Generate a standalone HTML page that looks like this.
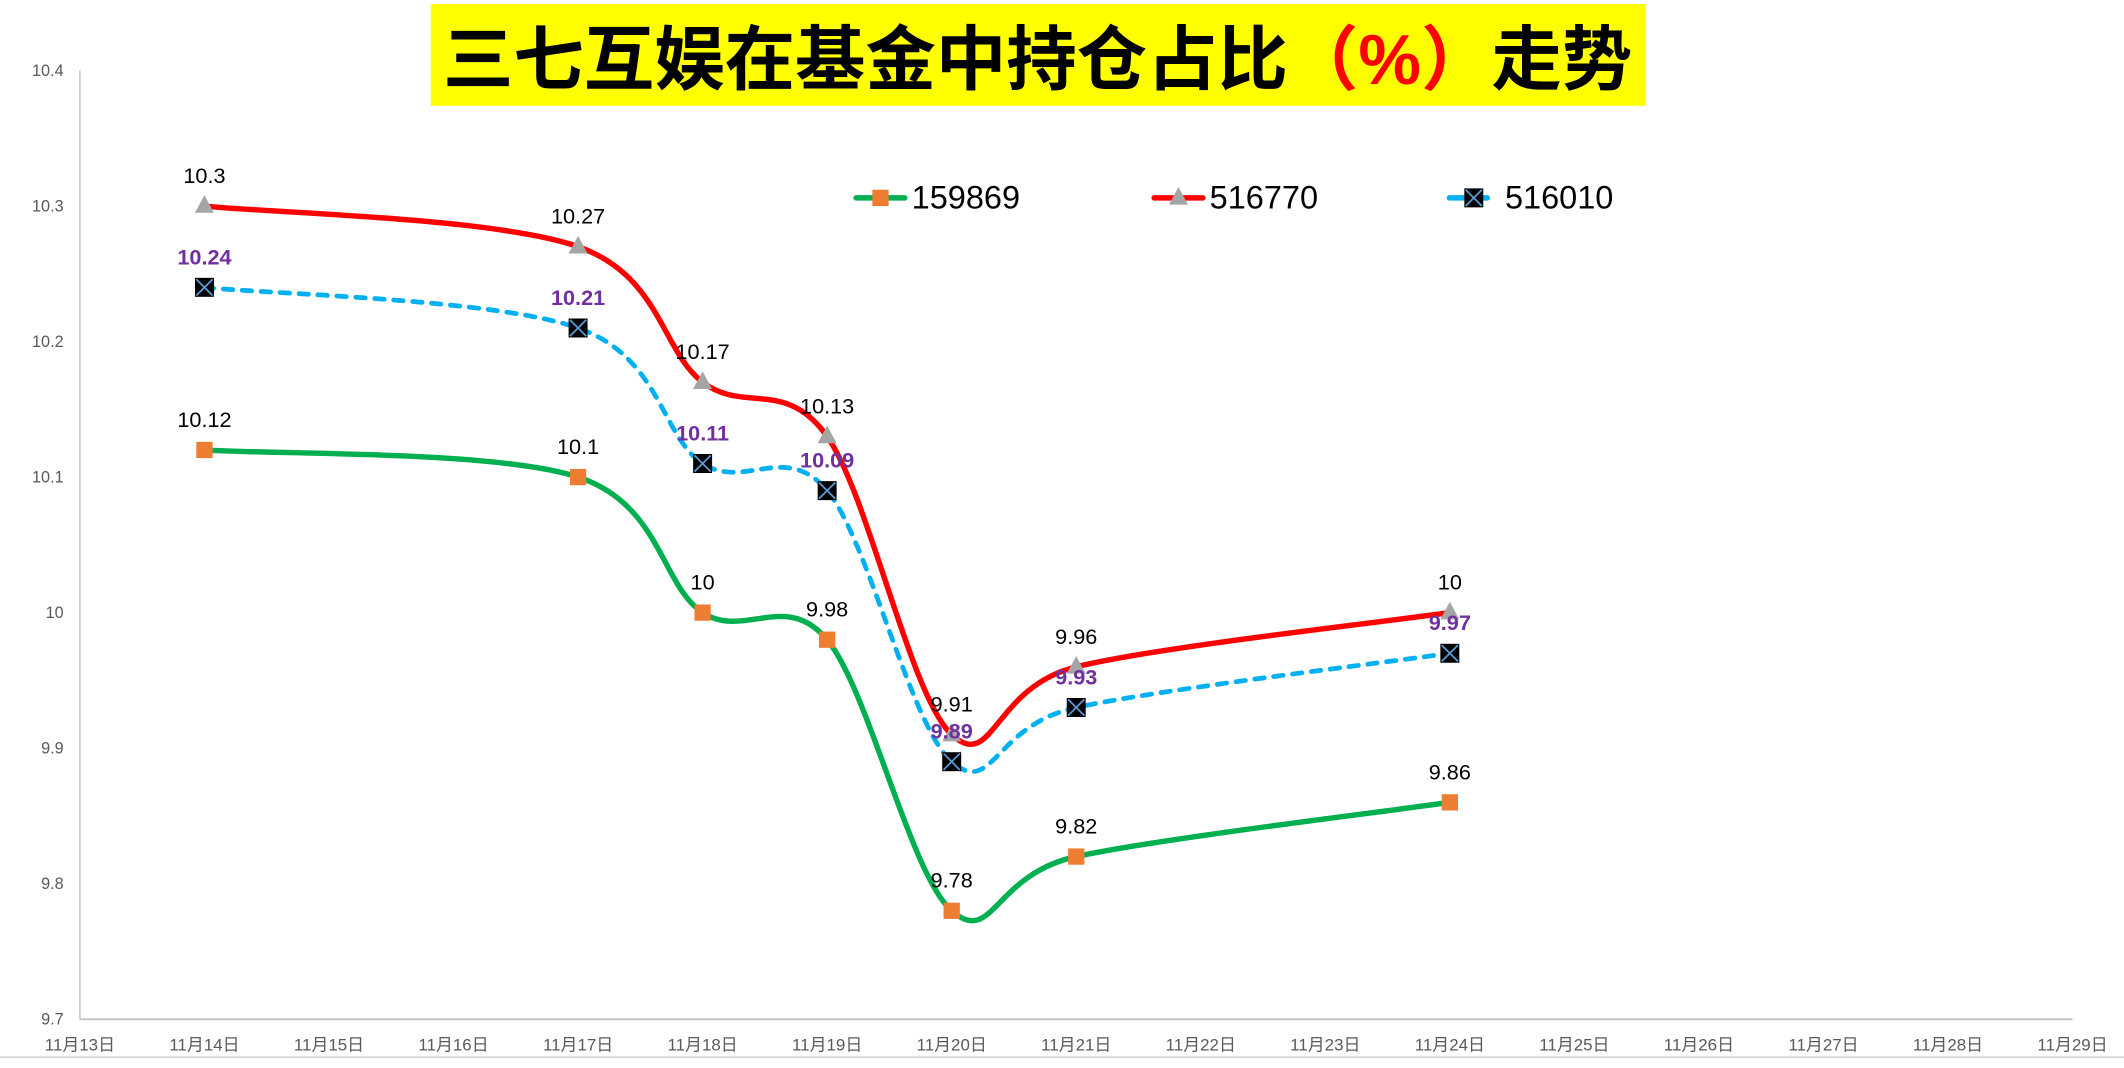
<!DOCTYPE html>
<html><head><meta charset="utf-8"><style>
html,body{margin:0;padding:0;background:#fff;overflow:hidden}
svg{display:block}
text{font-family:"Liberation Sans","Noto Sans CJK SC",sans-serif}
</style></head><body>
<svg id="chart" width="2124" height="1068" viewBox="0 0 1568 788" preserveAspectRatio="none" xmlns="http://www.w3.org/2000/svg">
<rect x="318" y="3" width="897" height="75" fill="#ffff00"/>
<text x="766" y="62" text-anchor="middle" font-size="52" font-weight="bold" fill="#000">三七互娱在基金中持仓占比<tspan fill="#ff0000">（%）</tspan>走势</text>
<g id="axes"></g>
<g id="series"></g>
<g id="legend"></g>
</svg>
<script>
const categories = ["11月13日","11月14日","11月15日","11月16日","11月17日","11月18日","11月19日","11月20日","11月21日","11月22日","11月23日","11月24日","11月25日","11月26日","11月27日","11月28日","11月29日"];
const yTicks = [9.7,9.8,9.9,10,10.1,10.2,10.3,10.4];
const pointDays = [1,4,5,6,7,8,11];
const s159869 = [10.12,10.1,10,9.98,9.78,9.82,9.86];
const s516770 = [10.3,10.27,10.17,10.13,9.91,9.96,10];
const s516010 = [10.24,10.21,10.11,10.09,9.89,9.93,9.97];
const seriesNames = ["159869","516770","516010"];

const NS="http://www.w3.org/2000/svg";
const X0=59,X1=1530,Y0=752,Y1=52,YMIN=9.7,YMAX=10.4;
const xs=i=>X0+(X1-X0)*i/(categories.length-1);
const ys=v=>Y0-(v-YMIN)/(YMAX-YMIN)*(Y0-Y1);
function mk(tag,attrs,parent){const e=document.createElementNS(NS,tag);for(const k in attrs)e.setAttribute(k,attrs[k]);parent.appendChild(e);return e;}
const axes=document.getElementById('axes');
let l=mk('line',{x1:X0,y1:Y1,x2:X0,y2:Y0,stroke:'#bfbfbf','stroke-width':1},axes);


l=mk('line',{x1:X0,y1:Y0,x2:X1,y2:Y0,stroke:'#bfbfbf','stroke-width':1.3},axes);


l=mk('line',{x1:0,y1:780,x2:1568,y2:780,stroke:'#d9d9d9','stroke-width':1.5},axes);


yTicks.forEach(v=>{const t=mk('text',{x:47,y:ys(v)+4,'text-anchor':'end','font-size':12,fill:'#595959'},axes);t.textContent=String(v);

});
categories.forEach((c,i)=>{const t=mk('text',{x:xs(i),y:775,'text-anchor':'middle','font-size':12.5,fill:'#595959'},axes);t.textContent=c;

});

function smoothPath(pts){let d=`M${pts[0][0]},${pts[0][1]}`;for(let i=0;i<pts.length-1;i++){const p0=pts[i-1]||pts[i],p1=pts[i],p2=pts[i+1],p3=pts[i+2]||p2;const c1=[p1[0]+(p2[0]-p0[0])/6,p1[1]+(p2[1]-p0[1])/6],c2=[p2[0]-(p3[0]-p1[0])/6,p2[1]-(p3[1]-p1[1])/6];d+=` C${c1[0]},${c1[1]} ${c2[0]},${c2[1]} ${p2[0]},${p2[1]}`;}return d;}
function marker(type,x,y,g){
 if(type===0){const m=mk('rect',{x:x-6,y:y-6,width:12,height:12,fill:'#ED7D31'},g);return m;}
 if(type===1){const m=mk('polygon',{points:`${x},${y-8} ${x+7},${y+5} ${x-7},${y+5}`,fill:'#A5A5A5'},g);return m;}
 const m=mk('g',{},g);mk('rect',{x:x-7,y:y-7,width:14,height:14,fill:'#000'},m);mk('path',{d:`M${x-6},${y-6}L${x+6},${y+6}M${x+6},${y-6}L${x-6},${y+6}`,stroke:'#5b9bd5','stroke-width':1.3},m);return m;}
const sg=document.getElementById('series');
const all=[s159869,s516770,s516010];
const colors=['#00B050','#FF0000','#00B0F0'];
all.forEach((vals,si)=>{
 const g=mk('g',{},sg);
 
 
 const pts=vals.map((v,i)=>[xs(pointDays[i]),ys(v)]);
 const p=mk('path',{d:smoothPath(pts),fill:'none',stroke:colors[si],'stroke-width':4,'stroke-linecap':'round'},g);
 if(si===2){p.setAttribute('stroke-dasharray','7 7');p.setAttribute('stroke-width',3.5);}
 
 
 pts.forEach((pt,i)=>{const m=marker(si,pt[0],pt[1],g);
  
  
  const t=mk('text',{x:pt[0],y:pt[1]-17,'text-anchor':'middle','font-size':16,fill:si===2?'#7030A0':'#000','font-weight':si===2?'bold':'normal'},g);
  t.textContent=String(vals[i]);
  
  });
});
const lg=document.getElementById('legend');
[630,850,1068].forEach((lx,si)=>{
 const g=mk('g',{},lg);
 
 
 const ln=mk('line',{x1:lx+2,y1:146,x2:lx+38,y2:146,stroke:colors[si],'stroke-width':4,'stroke-linecap':'round'},g);
 if(si===2)ln.setAttribute('stroke-dasharray','10 8');
 marker(si,lx+20,146,g);
 const t=mk('text',{x:lx+43,y:154,'font-size':24,fill:'#000'},g);t.textContent=seriesNames[si];
 
 
});
</script>
</body></html>
